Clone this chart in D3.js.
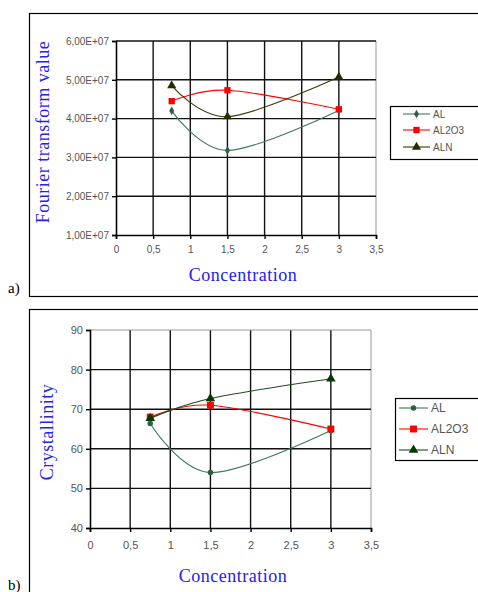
<!DOCTYPE html>
<head>
<meta charset="utf-8">
<title>Concentration charts</title>
<style>
body { margin: 0; background: #fff; }
text { font-family: "Liberation Sans", Arial, sans-serif; }
</style>
<script src="https://cdn.jsdelivr.net/npm/d3@7"></script>
</head>
<body>
<script>
// values
var concentration = [0.75, 1.5, 3];
var seriesNames = ["AL", "AL2O3", "ALN"];

var fourierAL = [4.20e7, 3.18e7, 4.21e7];
var fourierAL2O3 = [4.45e7, 4.73e7, 4.24e7];
var fourierALN = [4.85e7, 4.05e7, 5.07e7];

var crystAL = [66.4, 54.0, 64.6];
var crystAL2O3 = [68.0, 71.0, 65.0];
var crystALN = [67.7, 72.7, 77.7];

var xTicks = [0, 0.5, 1, 1.5, 2, 2.5, 3, 3.5];
var fourierTicks = [1e7, 2e7, 3e7, 4e7, 5e7, 6e7];
var crystTicks = [40, 50, 60, 70, 80, 90];

var svg = d3.select("body").append("svg")
  .attr("width", 478).attr("height", 592);

function comma(v) { return String(v).replace(".", ","); }

function drawChart(o) {
  var g = svg.append("g");
  // outer frame
  g.append("rect").attr("x", o.frame[0] + 0.5).attr("y", o.frame[1] + 0.5)
    .attr("width", o.frame[2]).attr("height", o.frame[3])
    .attr("fill", "none").attr("stroke", "#000").attr("stroke-width", 1.2);
  g.append("text").attr("x", 8).attr("y", o.tag[1]).text(o.tag[0])
    .style("font-family", "'Liberation Serif', serif").style("font-size", "15px");

  var x = d3.scaleLinear().domain([0, 3.5]).range(o.xr);
  var y = d3.scaleLinear().domain(o.yDomain).range(o.yr);

  // grid
  g.selectAll(".vg").data(xTicks.slice(1)).enter().append("line")
    .attr("x1", function(d) { return x(d); }).attr("x2", function(d) { return x(d); })
    .attr("y1", o.yr[0]).attr("y2", o.yr[1])
    .attr("stroke", function(d) { return d == 3.5 ? "#999" : "#111"; })
    .attr("stroke-width", function(d) { return d == 3.5 ? 1 : 1.4; });
  g.selectAll(".hg").data(o.yTicks.slice(1)).enter().append("line")
    .attr("x1", o.xr[0]).attr("x2", o.xr[1])
    .attr("y1", function(d) { return y(d); }).attr("y2", function(d) { return y(d); })
    .attr("stroke", function(d, i) { return (i == o.yTicks.length - 2 && o.grayTop) ? "#999" : "#111"; })
    .attr("stroke-width", function(d, i) { return (i == o.yTicks.length - 2 && o.grayTop) ? 1 : 1.4; });

  // axes
  var xa = g.append("g").attr("transform", "translate(0," + o.yr[0] + ")")
    .call(d3.axisBottom(x).tickValues(xTicks).tickSize(4).tickPadding(o.xPad).tickFormat(comma));
  var ya = g.append("g").attr("transform", "translate(" + o.xr[0] + ",0)")
    .call(d3.axisLeft(y).tickValues(o.yTicks).tickSize(4).tickPadding(3).tickFormat(o.yFormat));
  [xa, ya].forEach(function(a) {
    a.select(".domain").attr("stroke", "#000").attr("stroke-width", 1.6);
    a.selectAll(".tick line").attr("stroke", "#000").attr("stroke-width", 1.4);
    a.selectAll("text").attr("fill", "#555").style("font-size", o.tickFont)
      .style("font-family", "'Liberation Sans', Arial, sans-serif");
  });

  // axis titles
  g.append("text").attr("x", o.xTitle[0]).attr("y", o.xTitle[1])
    .attr("text-anchor", "middle").attr("fill", "#2222ee")
    .style("font-family", "'Liberation Serif', serif").style("font-size", o.titleFont)
    .style("letter-spacing", "0.5px")
    .text("Concentration");
  g.append("text").attr("transform", "translate(" + o.yTitle[1] + "," + o.yTitle[2] + ") rotate(-90)")
    .attr("text-anchor", "middle").attr("fill", "#2222ee")
    .style("font-family", "'Liberation Serif', serif").style("font-size", o.titleFont)
    .style("letter-spacing", "0.5px")
    .text(o.yTitle[0]);

  var line = d3.line().curve(d3.curveCardinal.tension(0))
    .x(function(d, i) { return x(concentration[i]); })
    .y(function(d) { return y(d); });

  o.series.forEach(function(s) {
    g.append("path").datum(s.values).attr("d", line)
      .attr("fill", "none").attr("stroke", s.color).attr("stroke-width", 1.1);
    g.selectAll(null).data(s.values).enter().append("path")
      .attr("transform", function(d, i) { return "translate(" + x(concentration[i]) + "," + y(d) + ")"; })
      .attr("d", d3.symbol().type(s.symbol).size(s.size))
      .attr("fill", s.marker);
  });

  // legend
  var lg = g.append("g");
  lg.append("rect").attr("x", o.legend[0] + 0.5).attr("y", o.legend[1] + 0.5)
    .attr("width", o.legend[2]).attr("height", o.legend[3])
    .attr("fill", "#fff").attr("stroke", "#000").attr("stroke-width", 1.2);
  o.series.forEach(function(s, i) {
    var ly = o.legendY[i];
    lg.append("line").attr("x1", o.legendLine[0]).attr("x2", o.legendLine[1])
      .attr("y1", ly).attr("y2", ly).attr("stroke", s.color).attr("stroke-width", 1.1);
    lg.append("path").attr("transform", "translate(" + (o.legendLine[0] + o.legendLine[1]) / 2 + "," + ly + ")")
      .attr("d", d3.symbol().type(s.symbol).size(s.size)).attr("fill", s.marker);
    lg.append("text").attr("x", o.legendLine[1] + 3).attr("y", ly).attr("dy", "0.35em")
      .attr("fill", "#555").style("font-size", o.legendFont).text(seriesNames[i]);
  });
}

drawChart({
  frame: [29, 13, 460, 283],
  tag: ["a)", 293],
  xr: [116, 376], yr: [235, 41],
  yDomain: [1e7, 6e7], yTicks: fourierTicks,
  yFormat: function(v) { return (v / 1e7).toFixed(2).replace(".", ",") + "E+07"; },
  tickFont: "10px", titleFont: "18px", legendFont: "10px", xPad: 7,
  xTitle: [243, 281], yTitle: ["Fourier transform value", 49, 132],
  grayTop: false,
  legend: [390, 106, 100, 53], legendY: [114, 130, 147], legendLine: [403, 430],
  series: [
    {values: fourierAL, color: "#3c7a5a", marker: "#2e5e44", symbol: d3.symbolDiamond, size: 22},
    {values: fourierAL2O3, color: "#ff0000", marker: "#ff0000", symbol: d3.symbolSquare, size: 40},
    {values: fourierALN, color: "#3a3a00", marker: "#2a2a00", symbol: d3.symbolTriangle, size: 36}
  ]
});

drawChart({
  frame: [29, 309, 460, 300],
  tag: ["b)", 590],
  xr: [90, 371], yr: [528, 330],
  yDomain: [40, 90], yTicks: crystTicks,
  yFormat: function(v) { return String(v); },
  tickFont: "11px", titleFont: "18px", legendFont: "12px", xPad: 9,
  xTitle: [233, 582], yTitle: ["Crystallinity", 53, 432],
  grayTop: true,
  legend: [395, 398, 100, 62], legendY: [408, 429, 450], legendLine: [399, 428],
  series: [
    {values: crystAL, color: "#3c7a5a", marker: "#2e5e44", symbol: d3.symbolCircle, size: 24},
    {values: crystAL2O3, color: "#ff0000", marker: "#ff0000", symbol: d3.symbolSquare, size: 48},
    {values: crystALN, color: "#1e4a1e", marker: "#063806", symbol: d3.symbolTriangle, size: 40}
  ]
});
</script>
</body>
